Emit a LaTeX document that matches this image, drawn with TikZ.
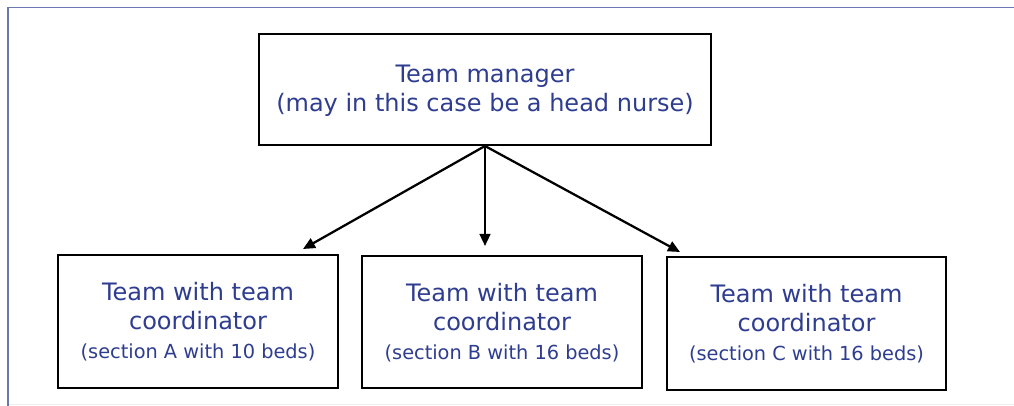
\documentclass[tikz,border=0pt]{standalone}
\usepackage{fontspec}
\setmainfont{DejaVu Sans}
\usetikzlibrary{arrows.meta}
\definecolor{txtblue}{HTML}{2E3D8F}
\definecolor{framec}{HTML}{6B78B4}
\definecolor{faint}{HTML}{EEEEEE}
\tikzset{
  boxline/.style={draw=black, line width=1.8pt},
  conn/.style={draw=black, line width=1.7pt, -{Triangle[length=9pt,width=8pt]}},
  big/.style={text=txtblue, align=center, font=\fontsize{18}{21.75}\selectfont},
}
\newcommand{\smalltxt}[1]{{\fontsize{14.5}{18.75}\selectfont #1}}
\begin{document}
\begin{tikzpicture}[x=0.75pt,y=-0.75pt]
\useasboundingbox (0,0) rectangle (1014,406);
\fill[white] (0,0) rectangle (1014,406);
\draw[faint, line width=1pt] (8,404.5) -- (1014,404.5);
\draw[framec, line width=1pt] (1014,7.5) -- (8,7.5) -- (8,406);
% boxes
\draw[boxline] (259,34) rectangle (711,145);
\node[big] (top) at (485,91) {Team manager\\(may in this case be a head nurse)};
\draw[boxline] (58,255) rectangle (338,388);
\draw[boxline] (362,256) rectangle (642,388);
\draw[boxline] (667,257) rectangle (946,390);
\node[big] (a) at (198,322) {Team with team\\coordinator\\\smalltxt{(section A with 10 beds)}};
\node[big] (b) at (502,323) {Team with team\\coordinator\\\smalltxt{(section B with 16 beds)}};
\node[big] (c) at (806.5,324) {Team with team\\coordinator\\\smalltxt{(section C with 16 beds)}};
\coordinate (src) at (485,146);
\coordinate (ta) at (303,249);
\coordinate (tb) at (485,246);
\coordinate (tc) at (680,252);
\draw[conn] (src) -- (ta);
\draw[conn] (src) -- (tb);
\draw[conn] (src) -- (tc);
\end{tikzpicture}
\end{document}
